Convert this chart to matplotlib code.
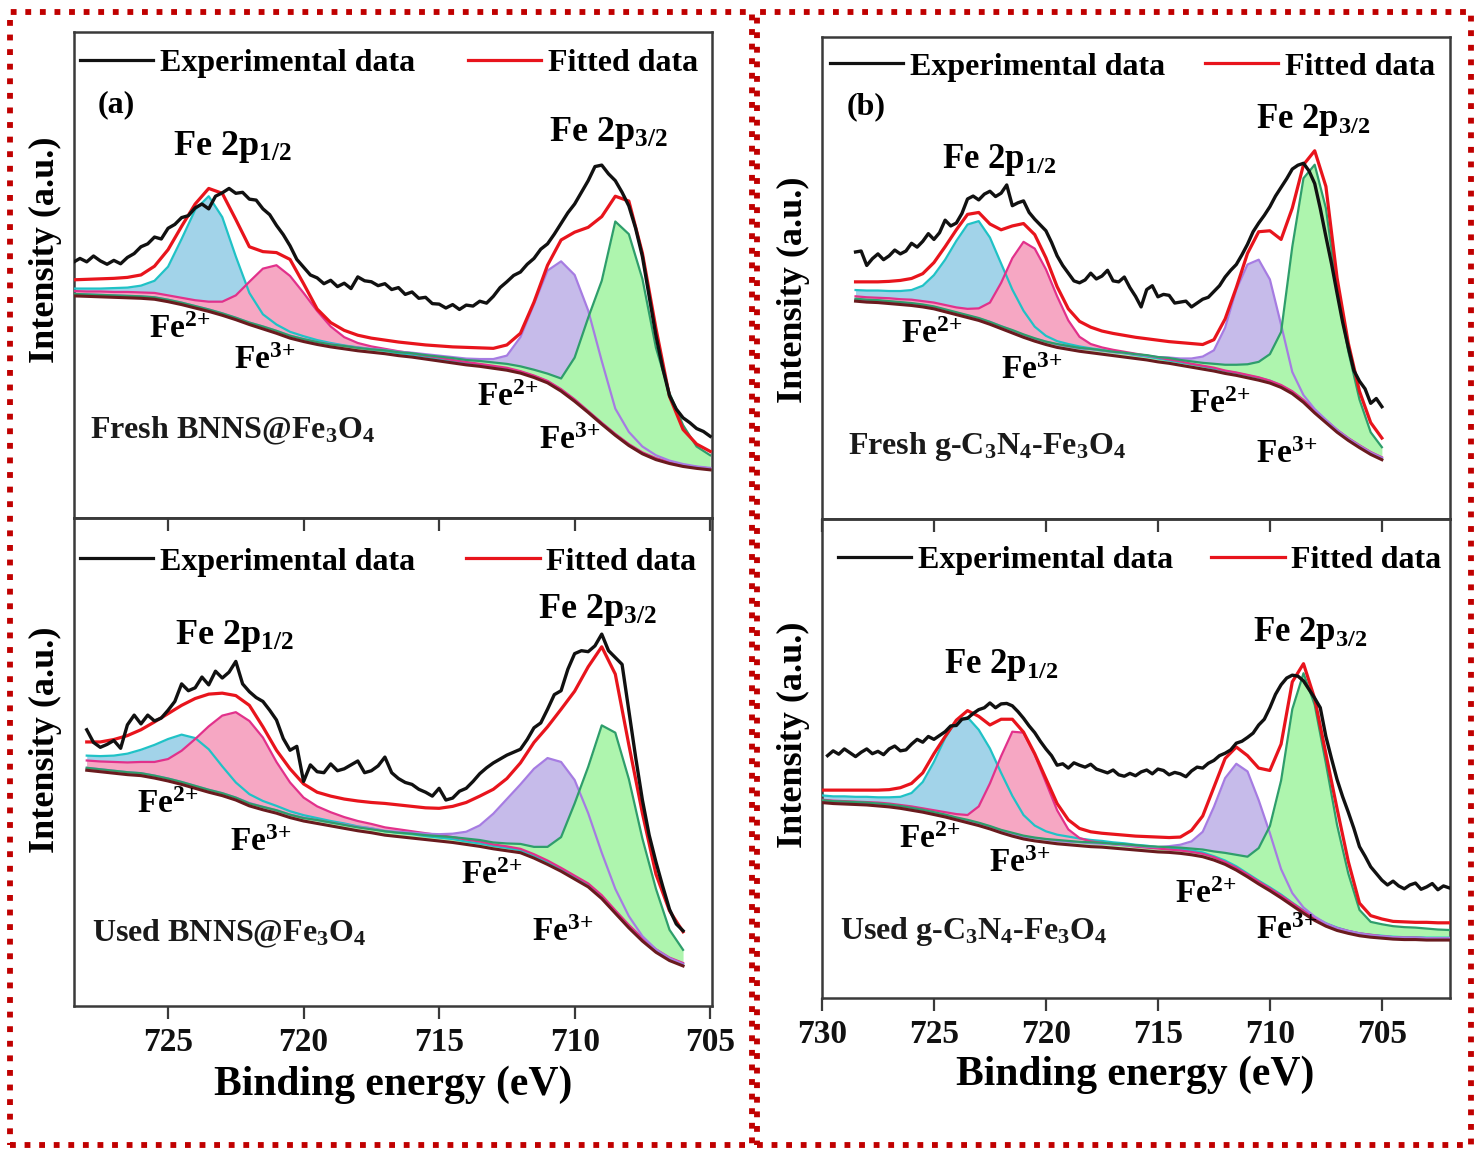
import numpy as np
import matplotlib.pyplot as plt
from matplotlib.lines import Line2D
from matplotlib.patches import Rectangle

plt.rcParams['font.family'] = ['Liberation Serif', 'DejaVu Serif']
plt.rcParams['font.weight'] = 'bold'
plt.rcParams['mathtext.fontset'] = 'custom'
plt.rcParams['mathtext.rm'] = 'Liberation Serif:bold'
plt.rcParams['mathtext.it'] = 'Liberation Serif:italic:bold'
plt.rcParams['mathtext.bf'] = 'Liberation Serif:bold'
plt.rcParams['mathtext.default'] = 'rm'

# measured traces are sampled every 0.25 eV, fit curves every 0.5 eV
# intensities in a.u. (0-100 = full height of each sub-plot)

# ---- (a) Fresh BNNS@Fe3O4 ----
a1_exp_start = 728.5
a1_exp = [52.6, 53.4, 52.7, 53.9, 52.9, 52.2, 53.0, 52.3, 53.6, 54.4,
          55.8, 56.4, 57.8, 57.4, 59.6, 60.4, 61.8, 62.2, 63.8, 64.6,
          63.6, 66.2, 66.9, 67.8, 66.8, 67.0, 65.6, 65.4, 63.6, 62.4,
          60.2, 58.3, 56.0, 53.2, 51.6, 50.0, 49.4, 48.2, 48.9, 47.6,
          48.3, 47.2, 49.6, 48.8, 48.6, 47.8, 48.2, 47.0, 47.4, 46.0,
          46.5, 45.2, 45.4, 44.1, 44.0, 43.2, 43.9, 42.9, 43.8, 43.6,
          44.6, 44.2, 45.6, 47.4, 48.6, 49.9, 50.6, 52.2, 53.4, 55.3,
          56.4, 58.4, 60.6, 62.8, 64.6, 67.0, 69.4, 72.3, 72.6, 70.8,
          69.4, 67.0, 64.2, 59.6, 53.8, 45.6, 37.5, 30.8, 25.2, 22.4,
          20.6, 19.6, 18.4, 17.8, 16.8]
a1_fit_start = 728.5
a1_bg = [45.7, 45.6, 45.5, 45.4, 45.3, 45.2, 45.0, 44.5, 43.9, 43.2,
         42.5, 41.7, 40.8, 39.8, 38.9, 38.0, 37.0, 36.3, 35.7, 35.2,
         34.8, 34.4, 34.1, 33.8, 33.4, 33.1, 32.7, 32.3, 31.9, 31.5,
         31.2, 30.8, 30.4, 29.8, 28.9, 27.8, 26.1, 24.0, 21.7, 19.3,
         17.0, 14.9, 13.2, 12.0, 11.2, 10.6, 10.2, 9.9]
a1_fe2_12 = [1.5, 1.6, 1.7, 1.9, 2.1, 2.6, 3.8, 7.2, 13.5, 20.2,
             23.7, 20.2, 13.0, 6.5, 3.0, 1.8, 1.3, 1.1, 0.9, 0.8,
             0.7, 0.7, 0.6, 0.6, 0.5, 0.5, 0.5, 0.4, 0.4, 0.4,
             0.4, 0.3, 0.3, 0.3, 0.3, 0.3, 0.3, 0.3, 0.2, 0.2,
             0.2, 0.2, 0.2, 0.2, 0.2, 0.2, 0.2, 0.2]
a1_fe3_12 = [1.0, 1.0, 1.1, 1.1, 1.2, 1.2, 1.3, 1.3, 1.4, 1.6,
             2.0, 2.8, 5.0, 8.8, 12.4, 14.0, 12.8, 10.0, 6.9, 4.2,
             2.4, 1.6, 1.2, 1.0, 0.9, 0.8, 0.7, 0.7, 0.6, 0.6,
             0.5, 0.5, 0.5, 0.4, 0.4, 0.4, 0.4, 0.4, 0.3, 0.3,
             0.3, 0.3, 0.3, 0.3, 0.3, 0.3, 0.3, 0.3]
a1_fe2_32 = [0.4, 0.4, 0.4, 0.4, 0.4, 0.4, 0.4, 0.4, 0.4, 0.4,
             0.4, 0.4, 0.4, 0.4, 0.5, 0.5, 0.5, 0.5, 0.5, 0.6,
             0.6, 0.7, 0.7, 0.8, 0.8, 0.9, 1.0, 1.1, 1.2, 1.3,
             1.5, 1.9, 3.0, 7.4, 15.1, 23.1, 26.7, 26.0, 21.0, 13.0,
             5.5, 2.8, 1.5, 0.9, 0.6, 0.5, 0.4, 0.4]
a1_fe3_32 = [0.4, 0.4, 0.4, 0.4, 0.4, 0.4, 0.4, 0.4, 0.4, 0.4,
             0.4, 0.4, 0.4, 0.4, 0.5, 0.5, 0.5, 0.5, 0.5, 0.5,
             0.6, 0.6, 0.6, 0.7, 0.7, 0.8, 0.8, 0.9, 1.0, 1.0,
             1.1, 1.2, 1.3, 1.4, 1.6, 1.9, 2.6, 9.0, 19.5, 29.5,
             44.0, 43.5, 36.0, 23.0, 14.5, 8.5, 4.5, 3.0]
a1_env = [49.0, 49.1, 49.2, 49.3, 49.5, 50.0, 51.8, 55.2, 60.0, 64.6,
          67.8, 66.8, 61.4, 55.8, 54.8, 54.6, 53.2, 48.2, 43.0, 40.2,
          38.6, 37.6, 37.0, 36.6, 36.2, 35.9, 35.6, 35.4, 35.2, 35.1,
          35.0, 34.9, 35.6, 38.0, 44.4, 52.0, 57.2, 58.8, 59.8, 62.0,
          66.2, 65.2, 54.5, 39.0, 25.0, 18.2, 15.2, 13.7]

# ---- (a) Used BNNS@Fe3O4 ----
a2_exp_start = 728.0
a2_exp = [56.6, 54.0, 53.0, 53.6, 54.4, 52.8, 57.6, 59.6, 57.8, 59.6,
          58.4, 59.0, 60.6, 62.4, 66.0, 64.6, 65.2, 67.4, 65.8, 68.6,
          67.2, 68.4, 70.6, 66.0, 64.4, 63.2, 62.4, 60.6, 58.6, 54.8,
          52.4, 53.2, 46.0, 49.4, 48.0, 47.8, 49.6, 48.2, 48.6, 49.4,
          50.2, 47.8, 48.2, 49.2, 51.0, 47.8, 46.6, 45.8, 45.4, 44.4,
          43.8, 43.0, 44.6, 42.2, 42.6, 44.0, 44.6, 46.0, 47.6, 48.8,
          49.8, 50.6, 51.4, 52.0, 52.6, 54.6, 57.0, 58.0, 60.8, 63.8,
          64.6, 69.0, 72.2, 72.8, 72.6, 73.8, 76.2, 72.8, 71.4, 70.0,
          60.5, 51.0, 42.2, 35.0, 29.5, 24.5, 19.8, 16.8, 15.4]
a2_fit_start = 728.0
a2_bg = [48.3, 48.0, 47.7, 47.4, 47.2, 46.7, 46.1, 45.4, 44.6, 43.8,
         43.1, 42.2, 41.0, 40.2, 39.5, 38.6, 37.9, 37.4, 36.9, 36.4,
         35.9, 35.5, 35.0, 34.7, 34.4, 34.1, 33.8, 33.5, 33.1, 32.7,
         32.2, 31.8, 31.4, 30.3, 29.0, 27.6, 26.0, 24.4, 22.0, 19.0,
         16.0, 13.3, 11.0, 9.3, 8.2]
a2_fe2_12 = [3.0, 3.2, 3.6, 4.3, 5.3, 6.8, 8.6, 10.2, 10.3, 8.8,
             6.0, 3.6, 2.4, 1.8, 1.5, 1.3, 1.2, 1.1, 1.0, 1.0,
             0.9, 0.9, 0.8, 0.8, 0.8, 0.7, 0.7, 0.7, 0.6, 0.6,
             0.6, 0.6, 0.5, 0.5, 0.5, 0.5, 0.5, 0.5, 0.4, 0.4,
             0.4, 0.4, 0.4, 0.4, 0.4]
a2_fe3_12 = [2.0, 2.1, 2.3, 2.5, 2.8, 3.3, 4.5, 6.9, 10.1, 13.5,
             16.4, 18.0, 17.4, 14.8, 10.5, 7.2, 4.8, 3.5, 2.8, 2.3,
             2.0, 1.8, 1.6, 1.5, 1.4, 1.3, 1.2, 1.1, 1.0, 1.0,
             0.9, 0.9, 0.8, 0.8, 0.8, 0.7, 0.7, 0.7, 0.7, 0.6,
             0.6, 0.6, 0.6, 0.6, 0.6]
a2_fe2_32 = [0.5, 0.5, 0.5, 0.5, 0.5, 0.5, 0.5, 0.5, 0.5, 0.5,
             0.5, 0.5, 0.6, 0.6, 0.6, 0.6, 0.7, 0.7, 0.7, 0.8,
             0.8, 0.9, 0.9, 1.0, 1.1, 1.2, 1.4, 1.8, 2.6, 4.3,
             7.2, 10.6, 14.0, 18.3, 21.8, 22.4, 20.3, 15.1, 9.4, 5.0,
             2.4, 1.0, 0.6, 0.5, 0.4]
a2_fe3_32 = [0.5, 0.5, 0.5, 0.5, 0.5, 0.5, 0.5, 0.5, 0.5, 0.5,
             0.5, 0.5, 0.5, 0.6, 0.6, 0.6, 0.6, 0.7, 0.7, 0.7,
             0.7, 0.7, 0.8, 0.8, 0.9, 0.9, 1.0, 1.1, 1.2, 1.3,
             1.3, 1.5, 1.8, 2.3, 3.6, 7.0, 15.5, 24.6, 35.5, 37.0,
             30.5, 21.0, 13.0, 6.3, 3.3]
a2_env = [54.1, 54.1, 54.6, 55.4, 56.6, 58.2, 59.9, 61.6, 63.0, 63.9,
          64.1, 63.6, 61.6, 57.2, 52.4, 48.6, 45.5, 43.8, 43.0, 42.4,
          42.0, 41.7, 41.5, 41.2, 40.9, 40.6, 40.5, 40.9, 41.7, 43.0,
          44.4, 46.6, 49.8, 54.0, 57.2, 60.8, 64.5, 69.5, 73.6, 68.0,
          53.5, 39.5, 27.0, 19.5, 15.2]

# ---- (b) Fresh g-C3N4-Fe3O4 ----
b1_exp_start = 728.5
b1_exp = [55.4, 55.6, 52.6, 54.0, 55.0, 53.8, 54.6, 55.8, 55.0, 55.6,
          57.2, 56.4, 57.6, 59.2, 58.0, 59.4, 62.0, 60.8, 61.4, 63.4,
          66.4, 67.0, 66.2, 67.4, 68.0, 66.9, 67.6, 69.3, 65.0, 65.6,
          66.0, 63.6, 62.2, 61.0, 59.8, 57.4, 54.6, 52.6, 51.0, 49.4,
          49.0, 49.6, 51.0, 49.8, 50.4, 51.6, 49.4, 49.2, 50.2, 48.0,
          46.2, 44.0, 47.6, 48.4, 46.1, 46.6, 46.4, 44.8, 45.0, 45.2,
          44.0, 44.8, 45.6, 46.0, 47.2, 48.4, 50.2, 51.6, 52.8, 54.8,
          57.0, 59.6, 61.4, 63.0, 64.8, 67.0, 68.8, 70.6, 72.6, 73.4,
          73.8, 72.2, 69.6, 64.4, 58.6, 53.0, 46.8, 40.8, 35.6, 30.8,
          28.6, 27.0, 24.0, 25.0, 23.3]
b1_fit_start = 728.5
b1_bg = [45.2, 45.0, 44.9, 44.7, 44.5, 44.3, 44.0, 43.6, 43.0, 42.4,
         41.8, 41.2, 40.4, 39.5, 38.6, 37.7, 36.9, 36.2, 35.6, 35.2,
         34.8, 34.5, 34.2, 33.9, 33.6, 33.3, 33.0, 32.6, 32.3, 31.9,
         31.5, 31.1, 30.7, 30.2, 29.8, 29.3, 28.8, 28.2, 27.3, 26.0,
         24.2, 22.0, 20.0, 18.0, 16.3, 14.8, 13.4, 12.3]
b1_fe2_12 = [2.3, 2.4, 2.5, 2.6, 2.8, 3.2, 4.4, 7.0, 10.8, 15.3,
             19.3, 20.6, 18.0, 13.5, 9.0, 5.5, 3.0, 1.8, 1.3, 1.1,
             1.0, 0.9, 0.9, 0.8, 0.8, 0.7, 0.7, 0.7, 0.6, 0.6,
             0.6, 0.6, 0.5, 0.5, 0.5, 0.5, 0.5, 0.5, 0.4, 0.4,
             0.4, 0.4, 0.4, 0.4, 0.4, 0.4, 0.4, 0.4]
b1_fe3_12 = [1.0, 1.0, 1.0, 1.1, 1.1, 1.2, 1.2, 1.3, 1.4, 1.5,
             1.8, 2.5, 4.5, 9.5, 15.5, 19.8, 19.2, 15.6, 10.6, 6.0,
             3.0, 1.8, 1.4, 1.2, 1.1, 1.0, 0.9, 0.9, 0.8, 0.8,
             0.7, 0.7, 0.7, 0.6, 0.6, 0.6, 0.6, 0.5, 0.5, 0.5,
             0.5, 0.5, 0.5, 0.5, 0.5, 0.5, 0.5, 0.5]
b1_fe2_32 = [0.4, 0.4, 0.4, 0.4, 0.4, 0.4, 0.4, 0.4, 0.4, 0.4,
             0.4, 0.4, 0.5, 0.5, 0.5, 0.5, 0.5, 0.6, 0.6, 0.6,
             0.6, 0.7, 0.7, 0.7, 0.8, 0.8, 0.9, 1.0, 1.2, 1.4,
             1.8, 2.6, 4.3, 9.5, 17.8, 23.5, 25.0, 21.5, 13.0, 4.5,
             1.5, 0.8, 0.6, 0.5, 0.4, 0.4, 0.4, 0.4]
b1_fe3_32 = [0.5, 0.5, 0.5, 0.5, 0.5, 0.5, 0.5, 0.5, 0.5, 0.5,
             0.5, 0.5, 0.5, 0.5, 0.6, 0.6, 0.6, 0.6, 0.7, 0.7,
             0.7, 0.8, 0.8, 0.8, 0.9, 0.9, 1.0, 1.0, 1.1, 1.1,
             1.2, 1.3, 1.5, 1.8, 2.2, 2.8, 3.8, 6.0, 11.5, 30.5,
             46.5, 51.5, 44.5, 29.5, 18.5, 10.0, 4.6, 2.6]
b1_env = [49.2, 49.2, 49.2, 49.3, 49.5, 49.9, 50.9, 53.2, 56.5, 60.0,
          63.2, 63.6, 61.2, 60.0, 60.8, 61.3, 59.0, 54.2, 48.2, 43.6,
          41.0, 39.8, 39.0, 38.5, 38.1, 37.7, 37.4, 37.1, 36.8, 36.6,
          36.4, 36.2, 37.2, 41.5, 48.0, 55.1, 59.6, 59.8, 58.0, 64.5,
          73.5, 76.4, 69.0, 50.0, 36.5, 26.5, 20.0, 16.8]

# ---- (b) Used g-C3N4-Fe3O4 ----
b2_exp_start = 729.75
b2_exp = [50.6, 51.6, 50.9, 52.0, 51.2, 50.4, 51.3, 52.0, 51.0, 51.5,
          50.8, 52.0, 52.6, 51.6, 51.8, 53.0, 54.0, 53.4, 54.6, 54.0,
          54.8, 55.6, 56.8, 56.9, 58.2, 58.4, 59.4, 60.2, 60.6, 61.6,
          60.6, 61.4, 61.5, 61.0, 59.8, 58.4, 56.8, 55.4, 53.6, 52.0,
          50.6, 48.6, 48.9, 48.0, 49.1, 48.6, 48.2, 48.8, 47.8, 47.4,
          47.0, 47.6, 46.6, 46.3, 46.9, 46.4, 47.2, 47.6, 46.8, 47.8,
          47.5, 46.6, 47.1, 46.8, 46.2, 47.4, 48.2, 48.0, 49.0, 49.6,
          50.6, 51.1, 51.8, 53.2, 53.6, 54.4, 55.3, 57.0, 58.2, 60.6,
          63.4, 65.4, 66.8, 67.4, 67.2, 66.2, 64.4, 62.6, 60.6, 54.6,
          50.0, 45.6, 42.0, 38.8, 35.4, 31.6, 29.6, 27.4, 26.0, 24.6,
          23.6, 24.4, 23.4, 22.8, 23.6, 24.0, 22.7, 23.2, 23.9, 22.6,
          23.4, 23.0]
b2_fit_start = 730.0
b2_bg = [40.8, 40.6, 40.5, 40.4, 40.3, 40.1, 39.9, 39.6, 39.2, 38.8,
         38.3, 37.8, 37.2, 36.6, 36.0, 35.3, 34.5, 33.8, 33.2, 32.8,
         32.5, 32.2, 32.0, 31.8, 31.6, 31.5, 31.3, 31.1, 30.9, 30.7,
         30.5, 30.4, 30.2, 29.9, 29.5, 28.8, 27.9, 26.7, 25.3, 23.8,
         22.4, 20.9, 19.3, 17.7, 16.2, 15.0, 14.1, 13.5, 13.0, 12.7,
         12.5, 12.3, 12.2, 12.2, 12.1, 12.1, 12.1]
b2_fe2_12 = [1.5, 1.5, 1.6, 1.6, 1.7, 1.8, 2.0, 2.4, 3.6, 6.3,
             11.0, 16.5, 20.8, 22.0, 20.0, 16.8, 12.5, 8.4, 5.0, 3.2,
             2.3, 1.9, 1.7, 1.5, 1.4, 1.3, 1.2, 1.2, 1.1, 1.1,
             1.0, 1.0, 0.9, 0.9, 0.9, 0.8, 0.8, 0.8, 0.7, 0.7,
             0.7, 0.7, 0.6, 0.6, 0.6, 0.6, 0.6, 0.5, 0.5, 0.5,
             0.5, 0.5, 0.5, 0.5, 0.5, 0.5, 0.5]
b2_fe3_12 = [0.6, 0.6, 0.6, 0.6, 0.6, 0.7, 0.7, 0.7, 0.8, 0.8,
             0.9, 1.0, 1.2, 1.6, 4.0, 9.5, 16.0, 21.8, 22.2, 18.0,
             12.5, 7.0, 3.2, 1.6, 1.1, 0.9, 0.8, 0.8, 0.7, 0.7,
             0.7, 0.6, 0.6, 0.6, 0.6, 0.6, 0.5, 0.5, 0.5, 0.5,
             0.5, 0.5, 0.5, 0.5, 0.5, 0.5, 0.5, 0.5, 0.5, 0.5,
             0.4, 0.4, 0.4, 0.4, 0.4, 0.4, 0.4]
b2_fe2_32 = [0.4, 0.4, 0.4, 0.4, 0.4, 0.4, 0.4, 0.4, 0.4, 0.4,
             0.4, 0.4, 0.4, 0.4, 0.5, 0.5, 0.5, 0.5, 0.5, 0.6,
             0.6, 0.6, 0.6, 0.7, 0.7, 0.7, 0.8, 0.8, 0.9, 0.9,
             1.0, 1.3, 1.8, 2.8, 5.2, 11.1, 18.0, 22.2, 22.0, 17.5,
             12.0, 6.0, 2.6, 1.2, 0.8, 0.6, 0.5, 0.5, 0.5, 0.4,
             0.4, 0.4, 0.4, 0.4, 0.4, 0.4, 0.4]
b2_fe3_32 = [0.5, 0.5, 0.5, 0.5, 0.5, 0.5, 0.5, 0.5, 0.5, 0.5,
             0.5, 0.5, 0.5, 0.6, 0.6, 0.6, 0.6, 0.7, 0.7, 0.7,
             0.7, 0.8, 0.8, 0.8, 0.9, 0.9, 0.9, 1.0, 1.0, 1.0,
             1.1, 1.1, 1.2, 1.3, 1.5, 1.8, 2.4, 3.2, 4.2, 7.5,
             13.5, 24.5, 41.0, 50.1, 45.0, 34.0, 22.0, 12.5, 5.4, 3.2,
             2.9, 2.7, 2.6, 2.5, 2.4, 2.2, 2.1]
b2_env = [43.4, 43.4, 43.4, 43.4, 43.4, 43.4, 43.5, 43.9, 44.8, 47.0,
          51.0, 54.6, 58.0, 60.0, 58.8, 57.0, 58.2, 58.2, 55.5, 51.0,
          45.8, 40.6, 37.2, 35.4, 34.7, 34.4, 34.2, 34.0, 33.8, 33.7,
          33.6, 33.5, 33.6, 35.0, 38.0, 44.0, 50.0, 52.4, 50.6, 48.0,
          47.5, 53.0, 66.0, 69.8, 62.5, 51.0, 39.5, 28.5, 19.8, 17.2,
          16.5, 16.0, 15.9, 15.8, 15.8, 15.7, 15.7]

ticks_a = [725, 720, 715, 710, 705]
ticks_b = [730, 725, 720, 715, 710, 705]

# (fill, line) colours for Fe2+ 2p1/2, Fe3+ 2p1/2, Fe2+ 2p3/2, Fe3+ 2p3/2
comp_colors = [('#a2d3e9', '#20c2c6'),
               ('#f6a7c3', '#e2318b'),
               ('#c6bbea', '#a67ce2'),
               ('#aef5ae', '#2e9e6b')]
spine_col = '#3a3a3a'


def draw_spectrum(ax, exp_start, exp, fit_start, bg, comps, env):
    e_exp = exp_start - 0.25 * np.arange(len(exp))
    e_fit = fit_start - 0.5 * np.arange(len(bg))
    bg = np.array(bg)
    for vals, (fc, lc) in zip(comps, comp_colors):
        ax.fill_between(e_fit, bg, bg + np.array(vals), color=fc, lw=0, zorder=2)
    for vals, (fc, lc) in zip(comps, comp_colors):
        ax.plot(e_fit, bg + np.array(vals), color=lc, lw=1.6, zorder=3)
    ax.plot(e_fit, bg, color='#6a1b1e', lw=2.2, zorder=3.5)
    ax.plot(e_fit, env, color='#e8141c', lw=2.3, zorder=4)
    ax.plot(e_exp, exp, color='#111111', lw=2.4, zorder=5)
    ax.set_ylim(0, 100)
    ax.set_yticks([])
    for s in ax.spines.values():
        s.set_linewidth(1.8)
        s.set_color(spine_col)


def add_legend(ax, x, y, colspace):
    handles = [Line2D([], [], color='#111111', lw=2.3),
               Line2D([], [], color='#e8141c', lw=2.3)]
    ax.legend(handles, ['Experimental data', 'Fitted data'], ncol=2,
              loc='center left', bbox_to_anchor=(x, y), frameon=False,
              handlelength=2.3, handletextpad=0.2, columnspacing=colspace,
              borderpad=0, borderaxespad=0,
              prop={'family': 'Liberation Serif', 'weight': 'bold', 'size': 23})


def add_labels(ax, labels):
    for txt, x, y, size in labels:
        ax.text(x, y, txt, transform=ax.transAxes, ha='center', va='center',
                fontsize=size, fontweight='bold', zorder=6)


fe2 = 'Fe$^{2{+}}$'
fe3 = 'Fe$^{3{+}}$'

fig = plt.figure(figsize=(14.77, 11.49), dpi=100)
ax_a1 = fig.add_axes([0.0501, 0.5492, 0.4320, 0.4230])
ax_a2 = fig.add_axes([0.0501, 0.1245, 0.4320, 0.4247])
ax_b1 = fig.add_axes([0.5565, 0.5483, 0.4252, 0.4195])
ax_b2 = fig.add_axes([0.5565, 0.1314, 0.4252, 0.4169])

draw_spectrum(ax_a1, a1_exp_start, a1_exp, a1_fit_start, a1_bg,
              [a1_fe2_12, a1_fe3_12, a1_fe2_32, a1_fe3_32], a1_env)
draw_spectrum(ax_a2, a2_exp_start, a2_exp, a2_fit_start, a2_bg,
              [a2_fe2_12, a2_fe3_12, a2_fe2_32, a2_fe3_32], a2_env)
draw_spectrum(ax_b1, b1_exp_start, b1_exp, b1_fit_start, b1_bg,
              [b1_fe2_12, b1_fe3_12, b1_fe2_32, b1_fe3_32], b1_env)
draw_spectrum(ax_b2, b2_exp_start, b2_exp, b2_fit_start, b2_bg,
              [b2_fe2_12, b2_fe3_12, b2_fe2_32, b2_fe3_32], b2_env)

for ax in (ax_a1, ax_a2):
    ax.set_xlim(728.47, 704.93)
for ax in (ax_b1, ax_b2):
    ax.set_xlim(730.0, 701.96)
for ax in (ax_a1, ax_b1):
    ax.set_xticks([])

for ax, ticks in ((ax_a2, ticks_a), (ax_b2, ticks_b)):
    ax.set_xticks(ticks)
    ax.tick_params(axis='x', direction='out', length=9, width=1.6,
                   labelsize=24, pad=6, colors=spine_col, labelcolor='#111111')
    sec = ax.secondary_xaxis('top')
    sec.set_xticks(ticks)
    sec.set_xticklabels([])
    sec.tick_params(direction='in', length=9, width=1.6, colors=spine_col)
    sec.spines['top'].set_linewidth(1.8)
    sec.spines['top'].set_color(spine_col)
    ax.set_xlabel('Binding energy (eV)', fontsize=30, fontweight='bold')
    ax.xaxis.label.set_va('center')

ax_a2.xaxis.set_label_coords(0.50, -0.162)
ax_b2.xaxis.set_label_coords(0.498, -0.161)

for ax, (x, y) in ((ax_a1, (-0.045, 0.551)), (ax_a2, (-0.045, 0.545)),
                   (ax_b1, (-0.046, 0.475)), (ax_b2, (-0.046, 0.549))):
    ax.set_ylabel('Intensity (a.u.)', fontsize=26, fontweight='bold')
    ax.yaxis.set_label_coords(x, y)
    ax.yaxis.label.set_va('center')

add_legend(ax_a1, 0.0094, 0.936, 1.65)
add_legend(ax_a2, 0.0094, 0.910, 1.6)
add_legend(ax_b1, 0.0127, 0.938, 1.25)
add_legend(ax_b2, 0.0255, 0.914, 1.2)

add_labels(ax_a1, [('(a)', 0.067, 0.850, 23),
                   ('Fe 2p$_{1/2}$', 0.249, 0.763, 26),
                   ('Fe 2p$_{3/2}$', 0.837, 0.792, 26),
                   (fe2, 0.166, 0.387, 24),
                   (fe3, 0.299, 0.325, 24),
                   (fe2, 0.679, 0.247, 24),
                   (fe3, 0.777, 0.160, 24)])
add_labels(ax_a2, [('Fe 2p$_{1/2}$', 0.252, 0.758, 26),
                   ('Fe 2p$_{3/2}$', 0.821, 0.811, 26),
                   (fe2, 0.147, 0.412, 24),
                   (fe3, 0.292, 0.334, 24),
                   (fe2, 0.655, 0.268, 24),
                   (fe3, 0.766, 0.150, 24)])
add_labels(ax_b1, [('(b)', 0.070, 0.855, 23),
                   ('Fe 2p$_{1/2}$', 0.282, 0.745, 25),
                   ('Fe 2p$_{3/2}$', 0.783, 0.828, 25),
                   (fe2, 0.175, 0.382, 24),
                   (fe3, 0.334, 0.309, 24),
                   (fe2, 0.634, 0.237, 24),
                   (fe3, 0.740, 0.133, 24)])
add_labels(ax_b2, [('Fe 2p$_{1/2}$', 0.285, 0.695, 25),
                   ('Fe 2p$_{3/2}$', 0.777, 0.762, 25),
                   (fe2, 0.172, 0.330, 24),
                   (fe3, 0.315, 0.280, 24),
                   (fe2, 0.611, 0.217, 24),
                   (fe3, 0.740, 0.142, 24)])

for ax, txt, x, y in ((ax_a1, 'Fresh BNNS@Fe$_3$O$_4$', 0.025, 0.179),
                      (ax_a2, 'Used BNNS@Fe$_3$O$_4$', 0.028, 0.148),
                      (ax_b1, 'Fresh g-C$_3$N$_4$-Fe$_3$O$_4$', 0.041, 0.151),
                      (ax_b2, 'Used g-C$_3$N$_4$-Fe$_3$O$_4$', 0.029, 0.138)):
    ax.text(x, y, txt, transform=ax.transAxes, ha='left', va='center',
            fontsize=23, fontweight='bold', color='#1a1a1a', zorder=6)

# dotted red frames around the two panels
for x0, w in ((0.0068, 0.5024), (0.5125, 0.4834)):
    fig.add_artist(Rectangle((x0, 0.0035), w, 0.986, transform=fig.transFigure,
                             fill=False, ec='#c00000', lw=4.2,
                             ls=(0, (1, 1.5)), zorder=10))

fig.savefig('out.png', dpi=100)
